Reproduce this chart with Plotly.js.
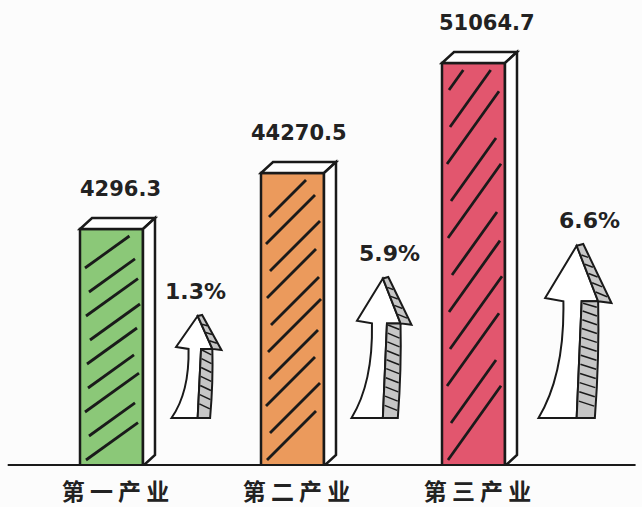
<!DOCTYPE html>
<html>
<head>
<meta charset="utf-8">
<script src="https://cdn.plot.ly/plotly-3.0.1.min.js"></script>
<style>
  html, body { margin: 0; padding: 0; background: #fcfcfc; }
  #chart { width: 642px; height: 507px; }
</style>
</head>
<body>
<div id="chart"></div>
<script>
// ---- data ----
const categories = ['第一产业', '第二产业', '第三产业'];
const values = [4296.3, 44270.5, 51064.7];          // labelled values
const growthPct = [1.3, 5.9, 6.6];                  // growth rates (%)
const drawnHeights = [237, 293, 403];               // bar heights as drawn (picture is not to scale)
const valueLabels = values.map(v => v.toFixed(1));
const growthLabels = growthPct.map(g => g.toFixed(1) + '%');

// ---- styles / geometry (not data) ----
const barColors = ['#8bc878', '#eb9a5c', '#e2566e'];
const PX_PER_X = 181;                 // pixels per category unit
const barWidth = 63 / PX_PER_X;
const depthX = 12 / PX_PER_X, depthY = 11;
const hatchSpacing = [24, 27, 37];
const hatchSlope = [0.72, 1.0, 1.4];
const hatchInsetL = [6, 9, 5, 8, 7, 10];
const hatchInsetR = [5, 8, 4, 9, 6, 3];
const arrowOffset = [60, 59, 65];     // px from bar centre to arrow left
const arrowW = [50, 60, 73];
const arrowH = [103, 141, 174];
const arrowBase = 48;
const pctShift = [-3, 6, 12];
const valShift = [9, 6, 13];

const ink = '#1a1a1a';
const shapes = [];
const annotations = [];
const f = n => n.toFixed(4);
const P = (pts) => pts.map((p, i) => (i ? 'L' : 'M') + f(p[0]) + ',' + f(p[1])).join(' ');

const xs = categories.map((c, i) => i);

// 3D top and side faces + hatching
xs.forEach((xc, i) => {
  const H = drawnHeights[i];
  const x0 = xc - barWidth / 2, x1 = xc + barWidth / 2;
  shapes.push({type: 'path', xref: 'x', yref: 'y', layer: 'above',
    path: P([[x0, H], [x1, H], [x1 + depthX, H + depthY], [x0 + depthX, H + depthY]]) + ' Z',
    fillcolor: '#ffffff', line: {color: ink, width: 2.5}});
  shapes.push({type: 'path', xref: 'x', yref: 'y', layer: 'above',
    path: P([[x1, 0], [x1 + depthX, depthY], [x1 + depthX, H + depthY], [x1, H]]) + ' Z',
    fillcolor: '#ffffff', line: {color: ink, width: 2.5}});
  // hatch
  const wpx = barWidth * PX_PER_X;
  let k = 0;
  for (let y = 6; y < H - 14; y += hatchSpacing[i], k++) {
    const l = hatchInsetL[k % hatchInsetL.length];
    const r = hatchInsetR[(k + i) % hatchInsetR.length];
    let dx = wpx - l - r;
    const maxDy = H - 7 - y;
    if (dx * hatchSlope[i] > maxDy) dx = maxDy / hatchSlope[i];
    if (dx < 12) continue;
    shapes.push({type: 'line', xref: 'x', yref: 'y', layer: 'above',
      x0: x0 + l / PX_PER_X, y0: y, x1: x0 + (l + dx) / PX_PER_X, y1: y + dx * hatchSlope[i],
      line: {color: ink, width: 2.8}});
  }
  annotations.push({x: xc, y: H, xref: 'x', yref: 'y', text: valueLabels[i], showarrow: false,
    yanchor: 'middle', yshift: 40, xshift: valShift[i],
    font: {family: 'DejaVu Sans', size: 21, color: '#222', weight: 700}});
});

// arrows
const T = [.523, .99], T2 = [.613, 1.0], HL = [.091, .69], HIL = [.341, .671],
      BL = [0, 0], BR = [.523, 0], BRt = [.591, .671], HR = [.817, .671],
      HR2 = [1.0, .661], GBR = [.772, 0], CL = [.36, .25], CR = [.835, .35];
xs.forEach((xc, i) => {
  const left = xc + arrowOffset[i] / PX_PER_X;
  const W = arrowW[i] / PX_PER_X, Hh = arrowH[i];
  const m = p => [left + p[0] * W, arrowBase + p[1] * Hh];
  const s = p => f(m(p)[0]) + ',' + f(m(p)[1]);
  const line = {color: ink, width: 2};
  shapes.push({type: 'path', xref: 'x', yref: 'y', layer: 'above', fillcolor: '#ffffff', line,
    path: 'M' + s(T) + ' L' + s(HL) + ' L' + s(HIL) + ' Q' + s(CL) + ' ' + s(BL) +
          ' L' + s(BR) + ' L' + s(BRt) + ' L' + s(HR) + ' Z'});
  shapes.push({type: 'path', xref: 'x', yref: 'y', layer: 'above', fillcolor: '#c6c6c6', line,
    path: 'M' + s(BRt) + ' L' + s(HR) + ' Q' + s(CR) + ' ' + s(GBR) + ' L' + s(BR) + ' Z'});
  shapes.push({type: 'path', xref: 'x', yref: 'y', layer: 'above', fillcolor: '#c6c6c6', line,
    path: 'M' + s(T) + ' L' + s(T2) + ' L' + s(HR2) + ' L' + s(HR) + ' Z'});
  // strokes on the body strip
  const stepT = 9 / (Hh * 0.671);
  for (let t = stepT * 0.7; t < 0.96; t += stepT) {
    const q = [ (1 - t) * (1 - t) * HR[0] + 2 * t * (1 - t) * CR[0] + t * t * GBR[0],
                (1 - t) * (1 - t) * HR[1] + 2 * t * (1 - t) * CR[1] + t * t * GBR[1] ];
    const vL = Math.min(q[1] + 5 / Hh, .66);
    const uL = BR[0] + (BRt[0] - BR[0]) * (vL / .671) + 0.02;
    const a = m([uL, vL]), b = m([q[0] - 0.02, q[1]]);
    shapes.push({type: 'line', xref: 'x', yref: 'y', layer: 'above',
      x0: a[0], y0: a[1], x1: b[0], y1: b[1], line: {color: ink, width: 1.5}});
  }
  // strokes on head band
  const nb = Math.round(Hh * 0.33 / 9);
  for (let j = 1; j < nb; j++) {
    const t = j / nb;
    const p1 = [T[0] + (HR[0] - T[0]) * t + 0.015, T[1] + (HR[1] - T[1]) * t];
    const p2 = [T2[0] + (HR2[0] - T2[0]) * Math.min(t + 0.06, 1) - 0.02, T2[1] + (HR2[1] - T2[1]) * Math.min(t + 0.06, 1)];
    const a = m(p1), b = m(p2);
    shapes.push({type: 'line', xref: 'x', yref: 'y', layer: 'above',
      x0: a[0], y0: a[1], x1: b[0], y1: b[1], line: {color: ink, width: 1.5}});
  }
  annotations.push({x: left + 0.53 * W, y: arrowBase + Hh, xref: 'x', yref: 'y', text: growthLabels[i],
    showarrow: false, yanchor: 'middle', yshift: 24, xshift: pctShift[i],
    font: {family: 'DejaVu Sans', size: 22, color: '#222', weight: 700}});
});

// baseline
shapes.push({type: 'line', xref: 'paper', yref: 'y', layer: 'above', x0: 0.012, x1: 0.99, y0: 0, y1: 0,
  line: {color: ink, width: 4}});

const trace = {
  type: 'bar', x: xs, y: drawnHeights, width: barWidth,
  marker: {color: barColors, line: {color: ink, width: 2.5}},
  hoverinfo: 'skip', cliponaxis: false,
  customdata: values
};

const layout = {
  width: 642, height: 507,
  margin: {l: 0, r: 0, t: 0, b: 41},
  paper_bgcolor: '#fcfcfc', plot_bgcolor: '#fcfcfc',
  showlegend: false,
  xaxis: {range: [-111.5 / PX_PER_X, (642 - 111.5) / PX_PER_X], tickvals: xs,
    ticktext: categories.map(c => c.split('').join(' ')),
    ticks: '', showgrid: false, zeroline: false, showline: false, fixedrange: true,
    ticklabelshift: 4, ticklabelstandoff: 10,
    tickfont: {family: 'Noto Sans CJK SC', size: 23, color: '#222', weight: 700}},
  yaxis: {range: [0, 466], visible: false, fixedrange: true},
  shapes, annotations
};

Plotly.newPlot('chart', [trace], layout, {displayModeBar: false, staticPlot: true});
</script>
</body>
</html>
